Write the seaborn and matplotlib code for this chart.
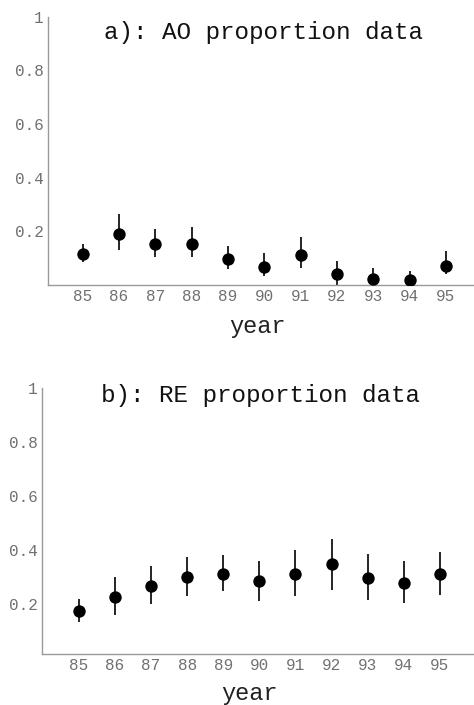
import numpy as np
import pandas as pd
import matplotlib
matplotlib.use("Agg")
import matplotlib.pyplot as plt
import seaborn as sns

# values
years = [85, 86, 87, 88, 89, 90, 91, 92, 93, 94, 95]

ao_mid = [0.114, 0.190, 0.152, 0.152, 0.096, 0.068, 0.111, 0.040, 0.022, 0.018, 0.071]
ao_low = [0.085, 0.130, 0.103, 0.103, 0.059, 0.034, 0.062, 0.000, 0.000, 0.000, 0.041]
ao_high = [0.153, 0.263, 0.210, 0.214, 0.144, 0.119, 0.179, 0.090, 0.063, 0.053, 0.125]

re_mid = [0.173, 0.224, 0.265, 0.299, 0.311, 0.284, 0.311, 0.348, 0.296, 0.277, 0.311]
re_low = [0.132, 0.160, 0.200, 0.227, 0.247, 0.212, 0.227, 0.252, 0.215, 0.202, 0.233]
re_high = [0.219, 0.299, 0.338, 0.373, 0.379, 0.358, 0.398, 0.439, 0.383, 0.357, 0.392]

yticks = [0.2, 0.4, 0.6, 0.8, 1.0]
ytick_labels = ["0.2", "0.4", "0.6", "0.8", "1"]

sns.set_style("white")
plt.rcParams['font.family'] = ['Liberation Mono', 'DejaVu Sans Mono']

fig = plt.figure(figsize=(4.74, 7.05), dpi=100)
ax_a = fig.add_axes([0.101, 0.596, 0.897, 0.380])
ax_b = fig.add_axes([0.088, 0.072, 0.910, 0.378])


def draw_panel(ax, mid, low, high, title, ylow, xlim, title_y, xlab_pos):
    df = pd.DataFrame({"year": years, "p": mid, "lo": low, "hi": high})
    ax.vlines(df["year"], df["lo"], df["hi"], color="black", linewidth=1.2, zorder=2)
    sns.scatterplot(data=df, x="year", y="p", ax=ax, color="black", s=80,
                    edgecolor="black", linewidth=0, zorder=3)
    ax.set_xlim(*xlim)
    ax.set_ylim(ylow, 1.0)
    ax.set_xticks(years)
    ax.set_xticklabels([str(y) for y in years])
    ax.set_yticks(yticks)
    ax.set_yticklabels(ytick_labels)
    ax.tick_params(direction="in", length=2.5, width=0.8, color="#888888",
                   labelsize=11.5, labelcolor="#707070", pad=3)
    for side in ["top", "right"]:
        ax.spines[side].set_visible(False)
    for side in ["left", "bottom"]:
        ax.spines[side].set_color("#999999")
        ax.spines[side].set_linewidth(1.0)
    ax.set_xlabel("year", fontsize=17, color="#222222")
    ax.xaxis.set_label_coords(*xlab_pos)
    ax.xaxis.label.set_va("center")
    ax.set_ylabel("")
    ax.text(0.508, title_y, title, transform=ax.transAxes, ha="center", va="center",
            fontsize=17.5, color="#111111")


draw_panel(ax_a, ao_mid, ao_low, ao_high, "a): AO proportion data", 0.0,
           (84.04, 95.75), 0.94, (0.494, -0.157))
draw_panel(ax_b, re_mid, re_low, re_high, "b): RE proportion data", 0.013,
           (83.97, 95.92), 0.97, (0.482, -0.147))

fig.savefig("out.png", dpi=100)
